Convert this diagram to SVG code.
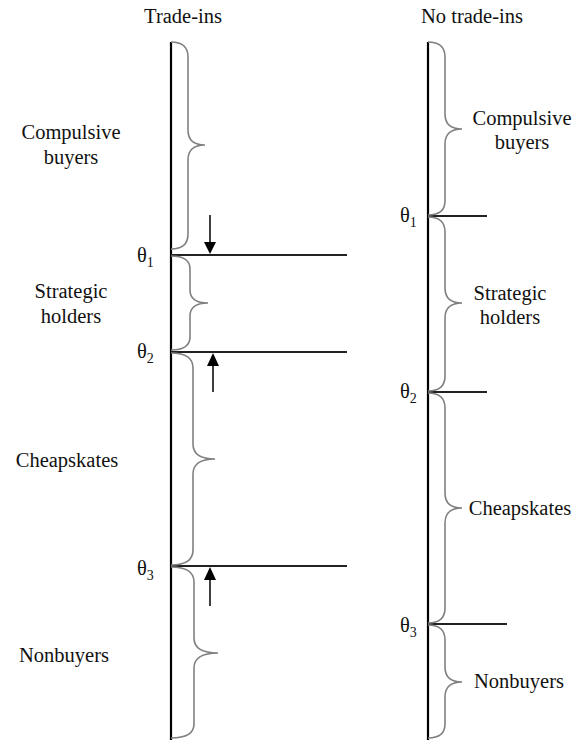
<svg xmlns="http://www.w3.org/2000/svg" width="585" height="744" viewBox="0 0 585 744">
<style>
text{font-family:'Liberation Serif','Times New Roman',Times,serif;font-size:20.5px;fill:#111}
.lbl{text-anchor:middle}
.sub{font-size:14px}
.axis{stroke:#000;stroke-width:2.2;fill:none}
.cut{stroke:#222;stroke-width:1.8;fill:none}
.brace{stroke:#808080;stroke-width:1.6;fill:none}
.arr{stroke:#000;stroke-width:1.5;fill:none}
.head{fill:#000}
</style>
<rect width="585" height="744" fill="#fff"/>
<g font-family="Liberation Serif, serif">
<g id="titles">
<text class="lbl" x="183" y="23">Trade-ins</text>
<text class="lbl" x="472" y="23">No trade-ins</text>
</g>
<g id="axes">
<line class="axis" x1="171" y1="42" x2="171" y2="740"/>
<line class="axis" x1="428" y1="42" x2="428" y2="740"/>
</g>
<g id="connectors">
<line class="cut" x1="171" y1="255" x2="347" y2="255"/>
<line class="cut" x1="171" y1="352" x2="347" y2="352"/>
<line class="cut" x1="171" y1="566" x2="347" y2="566"/>
<line class="cut" x1="428" y1="216" x2="487" y2="216"/>
<line class="cut" x1="428" y1="392" x2="487" y2="392"/>
<line class="cut" x1="428" y1="624" x2="507" y2="624"/>
<line class="arr" x1="210" y1="215" x2="210" y2="243"/>
<polygon class="head" points="204,242 216,242 210,254"/>
<line class="arr" x1="213" y1="365" x2="213" y2="392"/>
<polygon class="head" points="207,366 219,366 213,353"/>
<line class="arr" x1="210" y1="579" x2="210" y2="606"/>
<polygon class="head" points="204,580 216,580 210,567"/>
</g>
<g id="left-compulsive">
<path class="brace" d="M171,42 Q188,42 188,57 L188,130 Q188,145 205,145 Q188,145 188,160 L188,234 Q188,249 171,249"/>
<text class="lbl" x="71" y="139">Compulsive</text>
<text class="lbl" x="71" y="164">buyers</text>
</g>
<g id="left-strategic">
<path class="brace" d="M171,256 Q190,256 190,269 L190,290 Q190,303 208,303 Q190,303 190,316 L190,337 Q190,350 171,350"/>
<text class="lbl" x="71" y="298">Strategic</text>
<text class="lbl" x="71" y="323">holders</text>
</g>
<g id="left-cheapskates">
<path class="brace" d="M171,353 Q193,353 193,368 L193,444 Q193,459 215,459 Q193,459 193,474 L193,550 Q193,565 171,565"/>
<text class="lbl" x="67" y="467">Cheapskates</text>
</g>
<g id="left-nonbuyers">
<path class="brace" d="M171,567 Q194,567 194,582 L194,638 Q194,653 218,653 Q194,653 194,668 L194,724 Q194,738 171,738"/>
<text class="lbl" x="64" y="662">Nonbuyers</text>
</g>
<g id="left-thetas">
<text x="137" y="262">θ<tspan class="sub" dy="5">1</tspan></text>
<text x="137" y="358">θ<tspan class="sub" dy="5">2</tspan></text>
<text x="137" y="575">θ<tspan class="sub" dy="5">3</tspan></text>
</g>
<g id="right-compulsive">
<path class="brace" d="M428,42 Q445,42 445,57 L445,114 Q445,129 462,129 Q445,129 445,144 L445,201 Q445,215 428,215"/>
<text class="lbl" x="522" y="125">Compulsive</text>
<text class="lbl" x="522" y="149">buyers</text>
</g>
<g id="right-strategic">
<path class="brace" d="M428,217 Q445,217 445,232 L445,288 Q445,303 462,303 Q445,303 445,318 L445,376 Q445,391 428,391"/>
<text class="lbl" x="510" y="300">Strategic</text>
<text class="lbl" x="510" y="324">holders</text>
</g>
<g id="right-cheapskates">
<path class="brace" d="M428,393 Q445,393 445,408 L445,493 Q445,508 462,508 Q445,508 445,523 L445,608 Q445,623 428,623"/>
<text class="lbl" x="520" y="515">Cheapskates</text>
</g>
<g id="right-nonbuyers">
<path class="brace" d="M428,625 Q445,625 445,640 L445,667 Q445,682 462,682 Q445,682 445,697 L445,724 Q445,738 428,738"/>
<text class="lbl" x="519" y="688">Nonbuyers</text>
</g>
<g id="right-thetas">
<text x="400" y="222">θ<tspan class="sub" dy="5">1</tspan></text>
<text x="400" y="398">θ<tspan class="sub" dy="5">2</tspan></text>
<text x="400" y="632">θ<tspan class="sub" dy="5">3</tspan></text>
</g>
</g>
</svg>
